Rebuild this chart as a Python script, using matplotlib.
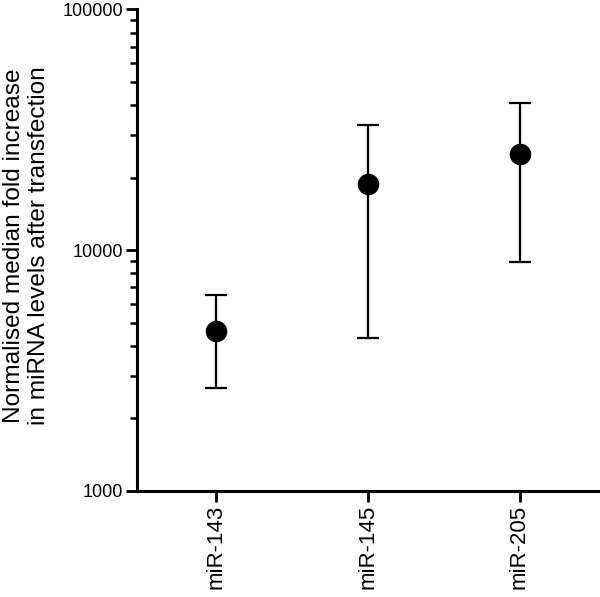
import matplotlib.pyplot as plt
import numpy as np
from matplotlib.ticker import FixedLocator, NullFormatter, FixedFormatter, LogLocator

plt.rcParams['font.family'] = ['Liberation Sans', 'DejaVu Sans']

labels = ['miR-143', 'miR-145', 'miR-205']
medians = [4610, 18800, 25000]
upper = [6510, 33000, 40800]
lower = [2670, 4320, 8920]

x = np.arange(len(labels))
med = np.array(medians)
yerr = [med - np.array(lower), np.array(upper) - med]

fig = plt.figure(figsize=(6.0, 5.97), dpi=100)
ax = fig.add_axes([0.228, 0.1776, 0.772, 0.807])

ax.errorbar(x, med, yerr=yerr, fmt='o', color='black', ms=14.5,
            elinewidth=1.6, capsize=8, capthick=1.6)

ax.set_yscale('log')
ax.set_ylim(1000, 100000)
ax.set_xlim(-0.52, 2.53)
ax.yaxis.set_major_locator(FixedLocator([1000, 10000, 100000]))
ax.yaxis.set_major_formatter(FixedFormatter(['1000', '10000', '100000']))
ax.yaxis.set_minor_locator(LogLocator(base=10, subs=np.arange(2, 10)))
ax.yaxis.set_minor_formatter(NullFormatter())
ax.set_xticks(x)
ax.set_xticklabels(labels, rotation=90)

for s in ['top', 'right']:
    ax.spines[s].set_visible(False)
for s in ['left', 'bottom']:
    ax.spines[s].set_linewidth(2.2)
ax.tick_params(which='major', width=2, length=8, pad=2)
ax.tick_params(which='minor', width=1.8, length=5)
ax.tick_params(axis='y', labelsize=13)
ax.tick_params(axis='x', labelsize=16)

fig.text(0.005, 0.588,
         'Normalised median fold increase\nin miRNA levels after transfection',
         rotation=90, ha='left', va='center', multialignment='center',
         fontsize=17.6)

fig.savefig('out.png', dpi=100)
